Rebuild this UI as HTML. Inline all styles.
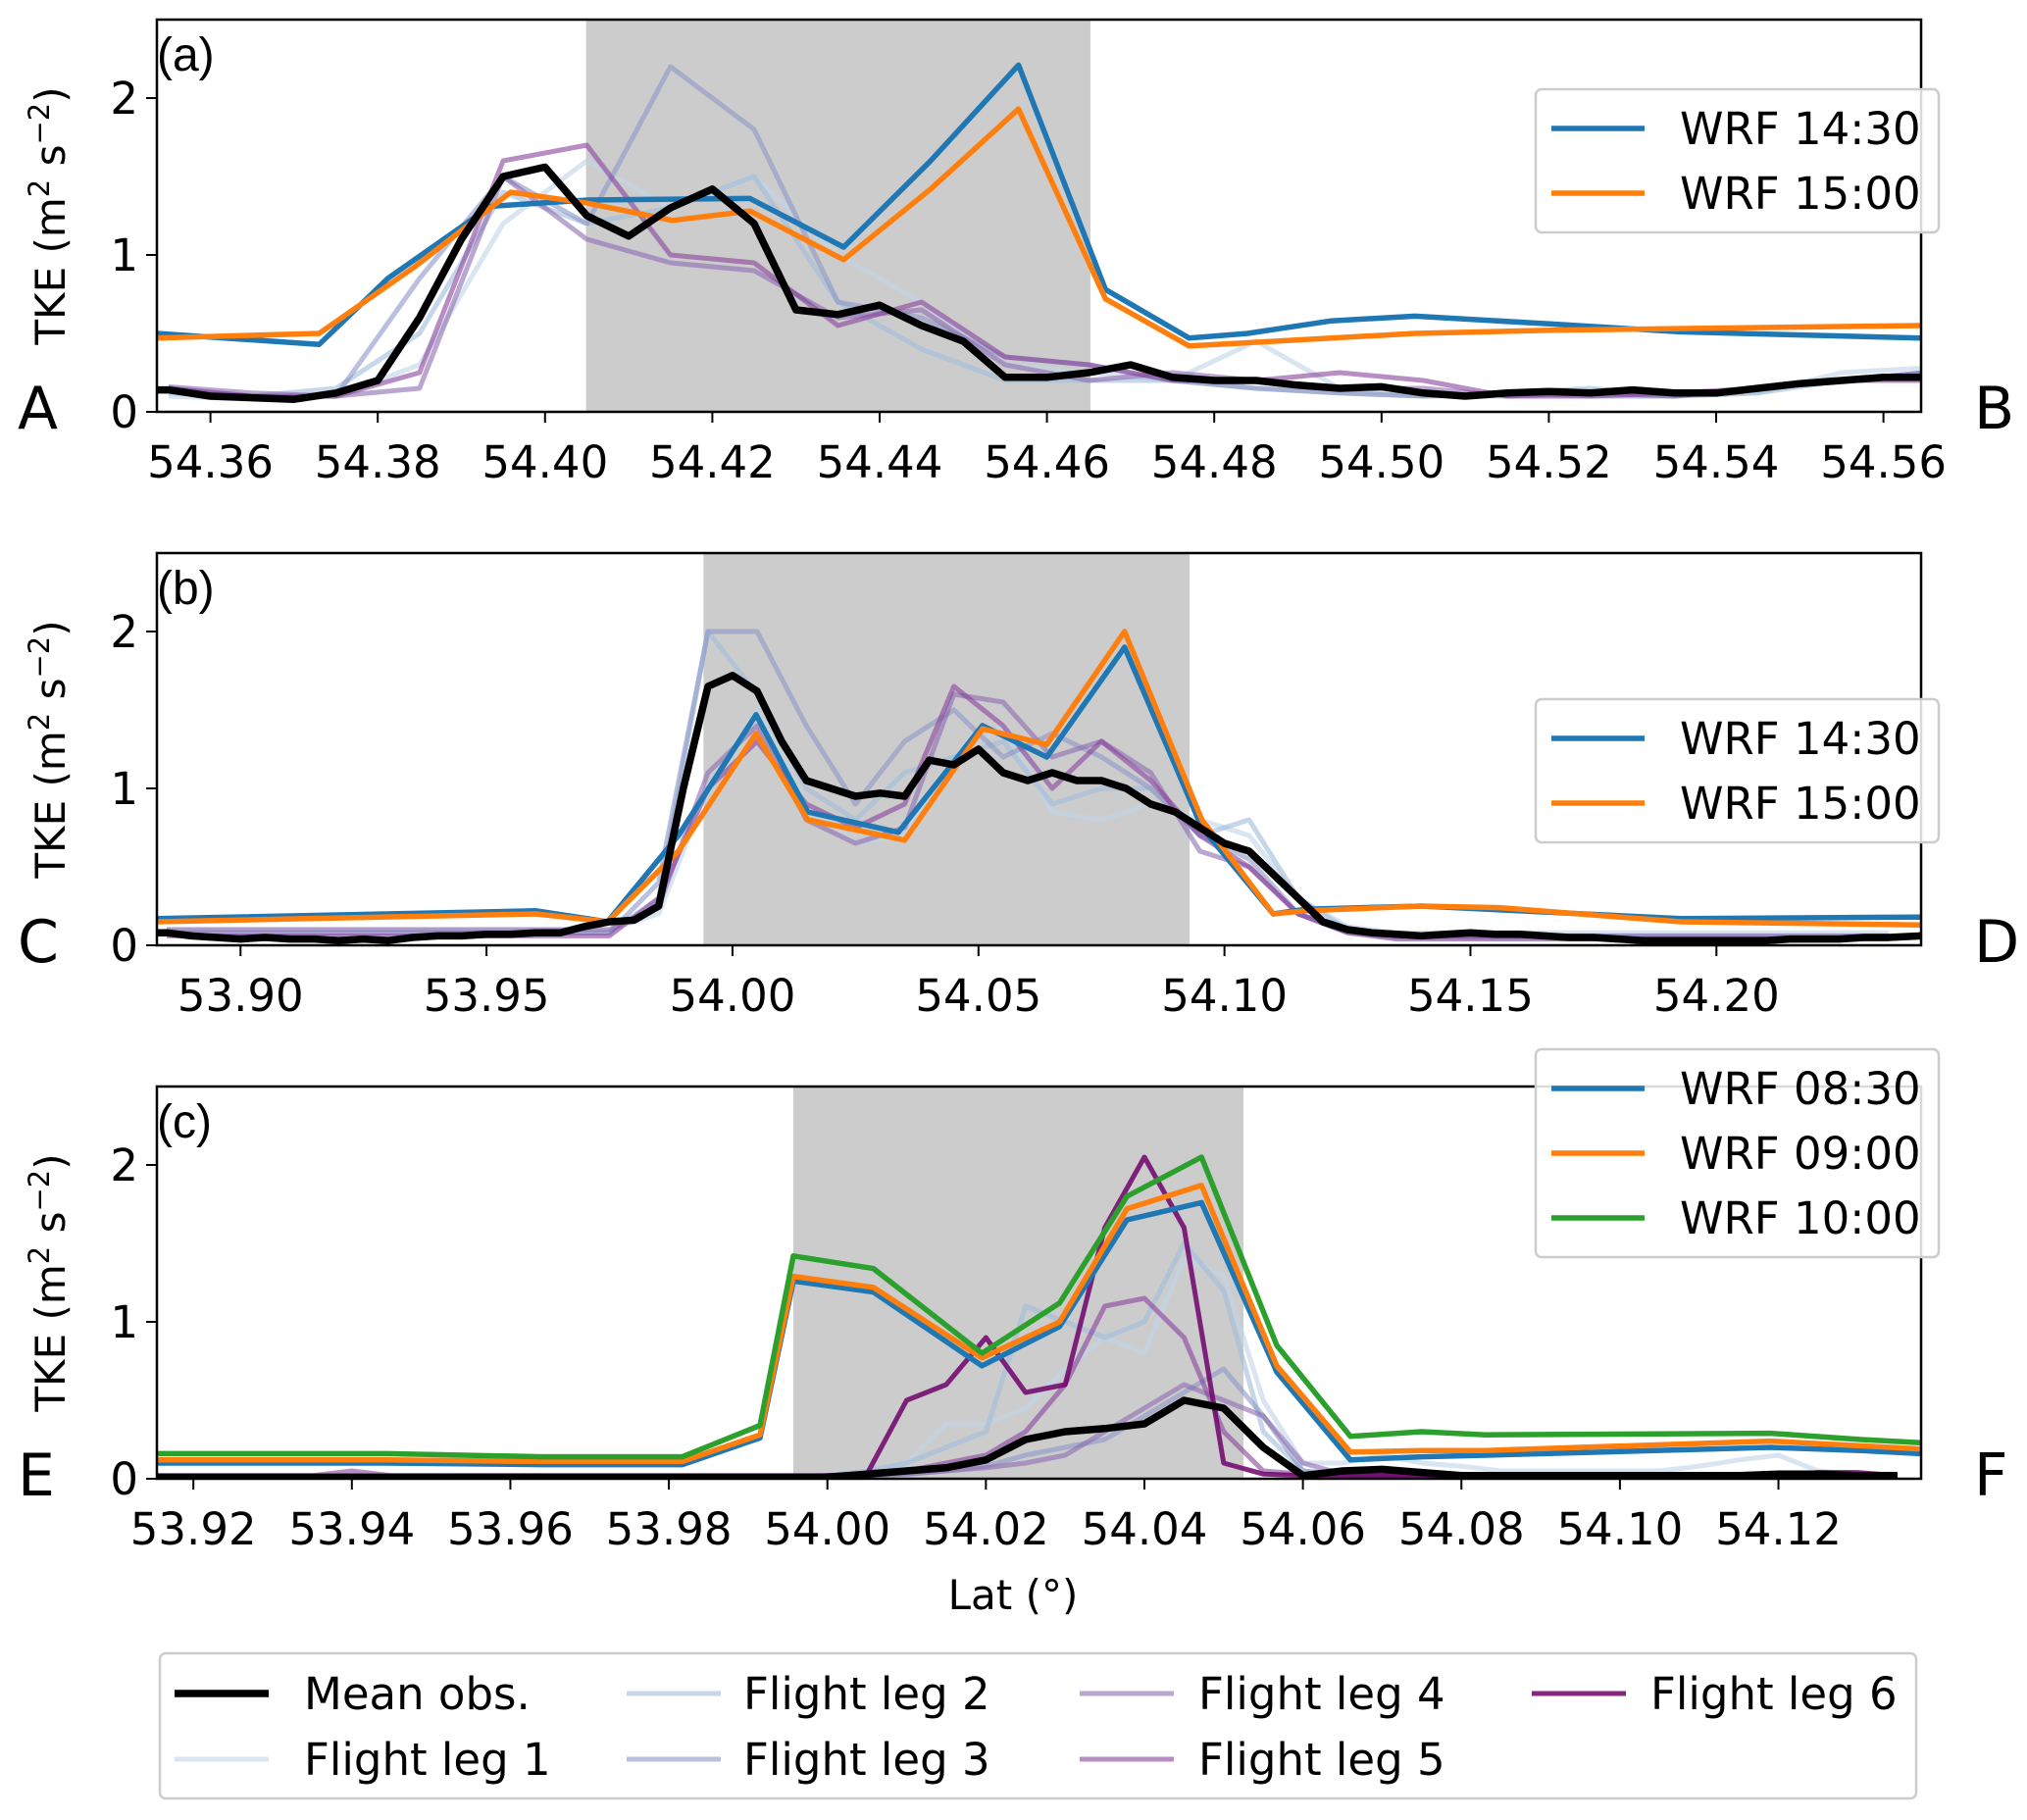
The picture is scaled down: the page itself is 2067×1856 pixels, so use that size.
<!DOCTYPE html>
<html><head><meta charset="utf-8">
<style>
html,body{margin:0;padding:0;background:#fff;}
svg{display:block;font-family:"DejaVu Sans","Liberation Sans",sans-serif;}
</style></head>
<body>
<svg id="fig" width="2067" height="1856" viewBox="0 0 2067 1856" xmlns="http://www.w3.org/2000/svg">
<defs>
<clipPath id="clipA"><rect x="160" y="20" width="1799" height="400"/></clipPath>
<clipPath id="clipB"><rect x="160" y="564" width="1799" height="400"/></clipPath>
<clipPath id="clipC"><rect x="160" y="1108" width="1799" height="400"/></clipPath>
</defs>
</svg>
<script>
// ---------- Panel (a) data ----------
const aBlueLat = [54.3535,54.3730,54.3812,54.3935,54.4051,54.4245,54.4357,54.4461,54.4566,54.4670,54.4770,54.4840,54.4940,54.5040,54.5203,54.5357,54.5645];
const aBlueVal = [0.50,0.43,0.85,1.31,1.35,1.36,1.05,1.60,2.21,0.78,0.47,0.50,0.58,0.61,0.56,0.51,0.47];
const aOrangeLat = [54.3535,54.3730,54.3843,54.3959,54.4051,54.4152,54.4245,54.4357,54.4461,54.4566,54.4670,54.4770,54.4940,54.5040,54.5203,54.5645];
const aOrangeVal = [0.47,0.50,0.92,1.40,1.33,1.22,1.28,0.97,1.42,1.93,0.72,0.42,0.47,0.50,0.52,0.55];
const aMeanLat = [54.3535,54.355,54.360,54.365,54.370,54.375,54.380,54.385,54.390,54.395,54.400,54.405,54.410,54.415,54.420,54.425,54.430,54.435,54.440,54.445,54.450,54.455,54.460,54.465,54.470,54.475,54.480,54.485,54.490,54.495,54.500,54.505,54.510,54.515,54.520,54.525,54.530,54.535,54.540,54.545,54.550,54.555,54.560,54.5645];
const aMeanVal = [0.14,0.14,0.10,0.09,0.08,0.12,0.20,0.60,1.10,1.50,1.56,1.25,1.12,1.30,1.42,1.20,0.65,0.62,0.68,0.55,0.45,0.22,0.22,0.25,0.30,0.22,0.20,0.20,0.17,0.15,0.16,0.12,0.10,0.12,0.13,0.12,0.14,0.12,0.12,0.15,0.18,0.20,0.22,0.22];
const aLegLat = [54.355,54.365,54.375,54.385,54.395,54.405,54.415,54.425,54.435,54.445,54.455,54.465,54.475,54.485,54.495,54.505,54.515,54.525,54.535,54.545,54.555,54.565];
const aLeg1 = [0.10,0.08,0.10,0.30,1.20,1.60,1.30,1.50,1.00,0.70,0.30,0.25,0.20,0.45,0.15,0.10,0.10,0.12,0.10,0.12,0.25,0.28];
const aLeg2 = [0.12,0.10,0.15,0.50,1.40,1.20,1.30,1.50,0.70,0.40,0.20,0.20,0.20,0.15,0.12,0.10,0.12,0.15,0.10,0.12,0.20,0.25];
const aLeg3 = [0.15,0.10,0.10,0.85,1.50,1.20,2.20,1.80,0.70,0.60,0.35,0.30,0.20,0.15,0.12,0.10,0.12,0.10,0.10,0.15,0.20,0.25];
const aLeg4 = [0.16,0.12,0.10,0.15,1.50,1.10,0.95,0.90,0.60,0.65,0.30,0.20,0.25,0.20,0.15,0.15,0.10,0.12,0.10,0.15,0.20,0.25];
const aLeg5 = [0.15,0.10,0.10,0.25,1.60,1.70,1.00,0.95,0.55,0.70,0.35,0.30,0.20,0.20,0.25,0.20,0.10,0.10,0.12,0.15,0.20,0.20];
const aTicks = [54.36,54.38,54.40,54.42,54.44,54.46,54.48,54.50,54.52,54.54,54.56];
const aTickLabels = ["54.36","54.38","54.40","54.42","54.44","54.46","54.48","54.50","54.52","54.54","54.56"];
const aShade = [54.4049,54.4652];

// ---------- Panel (b) data ----------
const bBlueLat = [53.8829,53.9601,53.9746,53.9890,54.0048,54.0153,54.0337,54.0508,54.0639,54.0797,54.0954,54.1099,54.1165,54.1401,54.1927,54.2416];
const bBlueVal = [0.17,0.22,0.15,0.70,1.47,0.85,0.72,1.40,1.20,1.90,0.75,0.20,0.23,0.25,0.17,0.18];
const bOrangeLat = [53.8829,53.9601,53.9746,53.9890,54.0048,54.0153,54.0350,54.0508,54.0639,54.0797,54.0954,54.1099,54.1165,54.1401,54.1559,54.1927,54.2416];
const bOrangeVal = [0.15,0.20,0.15,0.60,1.35,0.80,0.67,1.38,1.28,2.00,0.80,0.20,0.22,0.25,0.24,0.15,0.13];
const bMeanLat = [53.883,53.885,53.890,53.895,53.900,53.905,53.910,53.915,53.920,53.925,53.930,53.935,53.940,53.945,53.950,53.955,53.960,53.965,53.970,53.975,53.980,53.985,53.990,53.995,54.000,54.005,54.010,54.015,54.020,54.025,54.030,54.035,54.040,54.045,54.050,54.055,54.060,54.065,54.070,54.075,54.080,54.085,54.090,54.095,54.100,54.105,54.110,54.115,54.120,54.125,54.130,54.135,54.140,54.145,54.150,54.155,54.160,54.165,54.170,54.175,54.180,54.185,54.190,54.195,54.200,54.205,54.210,54.215,54.220,54.225,54.230,54.235,54.2416];
const bMeanVal = [0.08,0.08,0.06,0.05,0.04,0.05,0.04,0.04,0.03,0.04,0.03,0.05,0.06,0.06,0.07,0.07,0.08,0.08,0.12,0.15,0.16,0.25,1.00,1.65,1.72,1.62,1.30,1.05,1.00,0.95,0.97,0.95,1.18,1.15,1.25,1.10,1.05,1.10,1.05,1.05,1.00,0.90,0.85,0.75,0.65,0.60,0.45,0.30,0.15,0.10,0.08,0.07,0.06,0.07,0.08,0.07,0.07,0.06,0.05,0.05,0.04,0.03,0.03,0.03,0.03,0.03,0.03,0.04,0.04,0.04,0.05,0.05,0.06];
const bLegLat = [53.885,53.895,53.905,53.915,53.925,53.935,53.945,53.955,53.965,53.975,53.985,53.995,54.005,54.015,54.025,54.035,54.045,54.055,54.065,54.075,54.085,54.095,54.105,54.115,54.125,54.135,54.145,54.155,54.165,54.175,54.185,54.195,54.205,54.215,54.225,54.235];
const bLeg1 = [0.10,0.10,0.10,0.10,0.10,0.10,0.10,0.10,0.10,0.10,0.20,1.00,1.50,0.90,0.65,0.70,1.20,1.40,0.85,0.80,0.90,0.80,0.70,0.30,0.12,0.08,0.08,0.08,0.08,0.08,0.08,0.08,0.08,0.08,0.08,0.08];
const bLeg2 = [0.08,0.08,0.08,0.08,0.08,0.08,0.08,0.08,0.08,0.08,0.30,2.00,1.60,1.00,0.80,1.10,1.20,1.30,0.90,1.00,1.00,0.70,0.80,0.30,0.10,0.06,0.06,0.06,0.06,0.06,0.06,0.06,0.06,0.06,0.06,0.06];
const bLeg3 = [0.08,0.08,0.08,0.08,0.08,0.08,0.08,0.08,0.08,0.08,0.40,2.00,2.00,1.40,0.90,1.30,1.50,1.20,1.35,1.20,1.00,0.70,0.55,0.20,0.08,0.05,0.05,0.05,0.05,0.05,0.05,0.05,0.05,0.05,0.05,0.05];
const bLeg4 = [0.10,0.10,0.10,0.10,0.10,0.10,0.10,0.10,0.10,0.10,0.25,1.10,1.40,0.80,0.65,0.75,1.60,1.55,1.20,1.30,1.10,0.60,0.50,0.20,0.10,0.06,0.06,0.06,0.06,0.06,0.06,0.06,0.06,0.06,0.06,0.06];
const bLeg5 = [0.06,0.06,0.06,0.06,0.06,0.06,0.06,0.06,0.06,0.06,0.30,1.00,1.30,0.90,0.75,0.90,1.65,1.40,1.00,1.30,1.05,0.70,0.50,0.20,0.08,0.04,0.04,0.04,0.04,0.04,0.04,0.04,0.04,0.04,0.04,0.04];
const bTicks = [53.90,53.95,54.00,54.05,54.10,54.15,54.20];
const bTickLabels = ["53.90","53.95","54.00","54.05","54.10","54.15","54.20"];
const bShade = [53.9941,54.0929];

// ---------- Panel (c) data ----------
const cWrfLat = [53.9154,53.9445,53.9641,53.9817,53.9915,53.9957,54.0058,54.0195,54.0293,54.0378,54.0472,54.0567,54.0660,54.0750,54.0831,54.1190,54.1304,54.1379];
const cBlueVal = [0.10,0.10,0.09,0.09,0.26,1.26,1.19,0.72,0.97,1.65,1.76,0.68,0.12,0.14,0.15,0.20,0.18,0.16];
const cOrangeVal = [0.12,0.12,0.11,0.11,0.28,1.29,1.22,0.77,1.00,1.72,1.87,0.72,0.17,0.18,0.18,0.24,0.21,0.19];
const cGreenVal = [0.16,0.16,0.14,0.14,0.34,1.42,1.34,0.80,1.12,1.80,2.05,0.85,0.27,0.30,0.28,0.29,0.25,0.23];
const cLat = [53.915,53.920,53.925,53.930,53.935,53.940,53.945,53.950,53.955,53.960,53.965,53.970,53.975,53.980,53.985,53.990,53.995,54.000,54.005,54.010,54.015,54.020,54.025,54.030,54.035,54.040,54.045,54.050,54.055,54.060,54.065,54.070,54.075,54.080,54.085,54.090,54.095,54.100,54.105,54.110,54.115,54.120,54.125,54.130,54.135];
const cMean = [0.01,0.01,0.01,0.01,0.01,0.01,0.01,0.01,0.01,0.01,0.01,0.01,0.01,0.01,0.01,0.01,0.01,0.01,0.03,0.05,0.07,0.12,0.25,0.30,0.32,0.35,0.50,0.45,0.20,0.02,0.05,0.06,0.04,0.02,0.02,0.02,0.02,0.02,0.02,0.02,0.02,0.03,0.03,0.02,0.02];
const cLeg1 = [0.02,0.02,0.02,0.02,0.02,0.02,0.02,0.02,0.02,0.02,0.02,0.02,0.02,0.02,0.02,0.02,0.02,0.03,0.05,0.10,0.35,0.35,0.45,0.70,0.90,0.80,1.40,1.30,0.50,0.10,0.10,0.15,0.10,0.08,0.05,0.05,0.05,0.05,0.05,0.08,0.12,0.15,0.05,0.03,0.03];
const cLeg2 = [0.01,0.01,0.01,0.01,0.01,0.01,0.01,0.01,0.01,0.01,0.01,0.01,0.01,0.01,0.01,0.01,0.01,0.02,0.05,0.10,0.20,0.30,1.10,1.00,0.90,1.00,1.50,1.20,0.30,0.05,0.03,0.03,0.03,0.02,0.02,0.02,0.02,0.02,0.02,0.02,0.02,0.02,0.02,0.02,0.02];
const cLeg3 = [0.01,0.01,0.01,0.01,0.01,0.01,0.01,0.01,0.01,0.01,0.01,0.01,0.01,0.01,0.01,0.01,0.01,0.01,0.02,0.03,0.05,0.08,0.15,0.20,0.25,0.40,0.55,0.70,0.40,0.05,0.02,0.02,0.02,0.02,0.02,0.02,0.02,0.02,0.02,0.02,0.02,0.02,0.02,0.02,0.02];
const cLeg4 = [0.01,0.01,0.01,0.01,0.01,0.01,0.01,0.01,0.01,0.01,0.01,0.01,0.01,0.01,0.01,0.01,0.01,0.01,0.02,0.03,0.05,0.07,0.10,0.15,0.30,0.45,0.60,0.50,0.40,0.10,0.03,0.02,0.02,0.02,0.02,0.02,0.02,0.02,0.02,0.02,0.02,0.02,0.02,0.02,0.02];
const cLeg5 = [0.02,0.02,0.02,0.02,0.02,0.05,0.02,0.02,0.02,0.02,0.02,0.02,0.02,0.02,0.02,0.02,0.02,0.02,0.03,0.05,0.10,0.15,0.30,0.60,1.10,1.15,0.90,0.30,0.05,0.03,0.02,0.02,0.02,0.02,0.02,0.02,0.02,0.02,0.02,0.02,0.02,0.02,0.03,0.03,0.02];
const cLeg6 = [0.01,0.01,0.01,0.01,0.01,0.01,0.01,0.01,0.01,0.01,0.01,0.01,0.01,0.01,0.01,0.01,0.01,0.02,0.03,0.50,0.60,0.90,0.55,0.60,1.60,2.05,1.60,0.10,0.03,0.02,0.02,0.02,0.02,0.02,0.02,0.02,0.02,0.02,0.02,0.02,0.02,0.02,0.04,0.04,0.02];
const cTicks = [53.92,53.94,53.96,53.98,54.00,54.02,54.04,54.06,54.08,54.10,54.12];
const cTickLabels = ["53.92","53.94","53.96","53.98","54.00","54.02","54.04","54.06","54.08","54.10","54.12"];
const cShade = [53.9957,54.0525];

const yTicks = [0,1,2];
const yTickLabels = ["0","1","2"];

const NS = "http://www.w3.org/2000/svg";
const svg = document.getElementById('fig');
const L = 160, R = 1959;
const LEG_COL = ["#bfd3e6","#9ebcda","#8c96c6","#8c6bb1","#88419d","#6e016b"];

function mk(tag, attrs, parent){
  const e = document.createElementNS(NS, tag);
  for (const k in attrs) e.setAttribute(k, attrs[k]);
  (parent||svg).appendChild(e);
  return e;
}
function txt(x,y,s,size,anchor,parent,extra){
  const t = mk('text',Object.assign({x:x,y:y,'font-size':size,'text-anchor':anchor||'start',fill:'#000'},extra||{}),parent);
  t.textContent = s;
  return t;
}

function panel(cfg){
  const top = cfg.top, bot = top+400;
  const xs = v => L + (v - cfg.xmin)/(cfg.xmax - cfg.xmin)*(R-L);
  const ys = v => bot - v/2.5*400;
  const g = mk('g',{});
  
  
  const sh = mk('rect',{x:xs(cfg.shade[0]),y:top,width:xs(cfg.shade[1])-xs(cfg.shade[0]),height:400,fill:'#cccccc'},g);
  
  
  const pg = mk('g',{'clip-path':'url(#clip'+cfg.id.toUpperCase()+')'},g);
  function line(lats, vals, color, w, op, name){
    let d = '';
    for (let i=0;i<lats.length;i++) d += (i?'L':'M') + xs(lats[i]).toFixed(1) + ',' + ys(vals[i]).toFixed(1);
    const p = mk('path',{d:d,fill:'none',stroke:color,'stroke-width':w,'stroke-opacity':op,'stroke-linejoin':'round','stroke-linecap':'butt'},pg);
    
    
  }
  cfg.legs.forEach((lg,i)=>{ if(lg) line(lg[0], lg[1], LEG_COL[i], 5, i===5?0.85:0.6, 'flight-leg-'+(i+1)+'-line'); });
  cfg.wrf.forEach(w=> line(w.lat, w.val, w.color, 5.5, 1, w.name));
  line(cfg.mean[0], cfg.mean[1], '#000', 7.5, 1, 'mean-obs-line');
  const fr = mk('rect',{x:L,y:top,width:R-L,height:400,fill:'none',stroke:'#000','stroke-width':2.5},g);
  
  
  cfg.ticks.forEach((t,i)=>{
    const x = xs(t);
    const tk = mk('line',{x1:x,x2:x,y1:bot,y2:bot+11,stroke:'#000','stroke-width':2},g);
    
    
    const lb = txt(x, bot+67, cfg.tickLabels[i], 45, 'middle', g);
    
    
  });
  yTicks.forEach((t,i)=>{
    const y = ys(t);
    const tk = mk('line',{x1:L-11,x2:L,y1:y,y2:y,stroke:'#000','stroke-width':2},g);
    
    
    const lb = txt(L-19, y+16, yTickLabels[i], 45, 'end', g);
    
    
  });
  const yl = mk('text',{x:0,y:0,'font-size':42,'text-anchor':'middle',transform:'translate(66,'+(top+200)+') rotate(-90)'},g);
  
  
  yl.innerHTML = 'TKE (m<tspan dy="-16" font-size="29">2</tspan><tspan dy="16"> s</tspan><tspan dy="-16" font-size="29">−2</tspan><tspan dy="16">)</tspan>';
  const pl = txt(160, top+52, '('+cfg.id+')', 48, 'start', g, {'font-family':'"Liberation Sans",sans-serif'});
  
  
  const el = txt(18, bot+17, cfg.ends[0], 60, 'start', g);
  
  
  const er = txt(2013, bot+17, cfg.ends[1], 60, 'start', g);
  
  
  const lgd = mk('g',{},g);
  
  
  const n = cfg.wrf.length;
  const ly = cfg.legendTop;
  const lr = mk('rect',{x:1566,y:ly,width:411,height:n*66+14,rx:6,fill:'#fff','fill-opacity':0.85,stroke:'#cccccc','stroke-width':2.5},lgd);
  
  
  cfg.wrf.forEach((w,i)=>{
    const yy = ly + 40 + i*66;
    const ln = mk('line',{x1:1582,x2:1677,y1:yy,y2:yy,stroke:w.color,'stroke-width':5.5},lgd);
    
    
    const lt = txt(1713, yy+16, w.label, 45, 'start', lgd);
    
    
  });
}

panel({id:'a',top:20,xmin:54.3536,xmax:54.5645,shade:aShade,ticks:aTicks,tickLabels:aTickLabels,ends:['A','B'],legendTop:91,
  mean:[aMeanLat,aMeanVal],
  legs:[[aLegLat,aLeg1],[aLegLat,aLeg2],[aLegLat,aLeg3],[aLegLat,aLeg4],[aLegLat,aLeg5],null],
  wrf:[{lat:aBlueLat,val:aBlueVal,color:'#1f77b4',label:'WRF 14:30',name:'wrf-1430-line'},
       {lat:aOrangeLat,val:aOrangeVal,color:'#ff7f0e',label:'WRF 15:00',name:'wrf-1500-line'}]});
panel({id:'b',top:564,xmin:53.883,xmax:54.2416,shade:bShade,ticks:bTicks,tickLabels:bTickLabels,ends:['C','D'],legendTop:713,
  mean:[bMeanLat,bMeanVal],
  legs:[[bLegLat,bLeg1],[bLegLat,bLeg2],[bLegLat,bLeg3],[bLegLat,bLeg4],[bLegLat,bLeg5],null],
  wrf:[{lat:bBlueLat,val:bBlueVal,color:'#1f77b4',label:'WRF 14:30',name:'wrf-1430-line'},
       {lat:bOrangeLat,val:bOrangeVal,color:'#ff7f0e',label:'WRF 15:00',name:'wrf-1500-line'}]});
panel({id:'c',top:1108,xmin:53.9154,xmax:54.138,shade:cShade,ticks:cTicks,tickLabels:cTickLabels,ends:['E','F'],legendTop:1070,
  mean:[cLat,cMean],
  legs:[[cLat,cLeg1],[cLat,cLeg2],[cLat,cLeg3],[cLat,cLeg4],[cLat,cLeg5],[cLat,cLeg6]],
  wrf:[{lat:cWrfLat,val:cBlueVal,color:'#1f77b4',label:'WRF 08:30',name:'wrf-0830-line'},
       {lat:cWrfLat,val:cOrangeVal,color:'#ff7f0e',label:'WRF 09:00',name:'wrf-0900-line'},
       {lat:cWrfLat,val:cGreenVal,color:'#2ca02c',label:'WRF 10:00',name:'wrf-1000-line'}]});

const xl = txt(1033, 1641, 'Lat (°)', 42, 'middle');



const bl = mk('g',{});


const blr = mk('rect',{x:163,y:1686,width:1791,height:148,rx:6,fill:'#fff',stroke:'#cccccc','stroke-width':2.5},bl);


const legNames = ['Mean obs.','Flight leg 1','Flight leg 2','Flight leg 3','Flight leg 4','Flight leg 5','Flight leg 6'];
const legCols = ['#000',LEG_COL[0],LEG_COL[1],LEG_COL[2],LEG_COL[3],LEG_COL[4],LEG_COL[5]];
const colX = [178,639,1101,1562];
const colTX = [310,758,1222,1683];
legNames.forEach((nm,i)=>{
  const col = Math.floor(i/2), row = i%2;
  const yy = 1727 + row*67;
  const ln = mk('line',{x1:colX[col],x2:colX[col]+96,y1:yy,y2:yy,stroke:legCols[i],'stroke-width':i===0?7.5:5,'stroke-opacity':i===0?1:(i===6?0.85:0.6)},bl);
  
  
  const t = txt(colTX[col], yy+16, nm, 45, 'start', bl);
  
  
});
</script>
</body></html>
